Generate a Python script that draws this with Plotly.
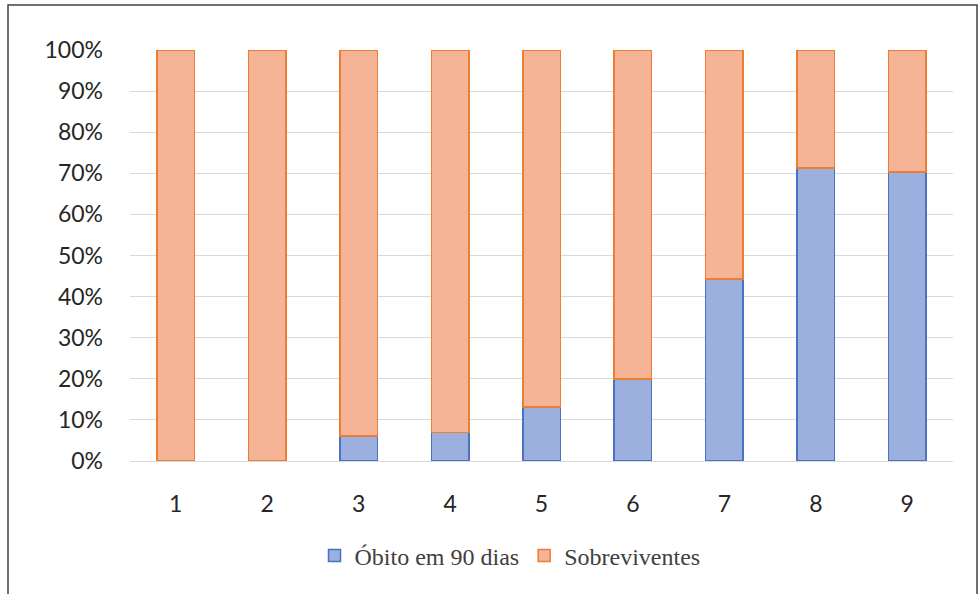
import plotly.graph_objects as go

categories = ["1", "2", "3", "4", "5", "6", "7", "8", "9"]
obito = [0, 0, 6.1, 6.9, 13.1, 20.0, 44.3, 71.3, 70.3]
sobreviventes = [100 - v for v in obito]
y_ticks = [0, 10, 20, 30, 40, 50, 60, 70, 80, 90, 100]
y_tick_labels = [f"{t}%" for t in y_ticks]

fig = go.Figure()
fig.add_trace(go.Bar(
    x=categories, y=obito, name="Óbito em 90 dias",
    marker=dict(color="#9CB0E0", line=dict(color="#4A72C0", width=1.5)),
))
fig.add_trace(go.Bar(
    x=categories, y=sobreviventes, name="Sobreviventes",
    marker=dict(color="#F5B496", line=dict(color="#ED7D31", width=1.5)),
))

W, H = 979, 594
L, R, T, B = 130, 26, 50, 133
pw, ph = W - L - R, H - T - B

def px_x(p):
    return (p - L) / pw

def px_y(p):
    return (H - B - p) / ph

fig.update_layout(
    barmode="stack",
    bargap=0.59,
    width=W, height=H,
    margin=dict(l=L, r=R, t=T, b=B),
    paper_bgcolor="white",
    plot_bgcolor="white",
    showlegend=True,
    legend=dict(
        orientation="h", x=px_x(510), xanchor="center", y=px_y(556), yanchor="middle",
        font=dict(family="Liberation Serif, DejaVu Serif, serif", size=24, color="#404040"),
        itemwidth=30, traceorder="normal",
    ),
    xaxis=dict(
        type="category",
        tickfont=dict(family="Lato, Open Sans, sans-serif", size=23, color="#262626"),
        showgrid=False, showline=False, ticks="", ticklabelstandoff=27,
    ),
    yaxis=dict(
        range=[0, 100], tickvals=y_ticks, ticktext=y_tick_labels,
        tickfont=dict(family="Lato, Open Sans, sans-serif", size=23, color="#262626"),
        showgrid=True, gridcolor="#D9D9D9", gridwidth=1,
        zeroline=True, zerolinecolor="#D9D9D9", zerolinewidth=1,
        showline=False, ticks="", ticklabelstandoff=26,
    ),
    shapes=[dict(
        type="rect", xref="paper", yref="paper",
        x0=px_x(8), x1=px_x(977), y0=px_y(5), y1=px_y(600),
        line=dict(color="#404040", width=1.5), fillcolor="rgba(0,0,0,0)",
        layer="below",
    )],
)

fig.write_html("out.html")
